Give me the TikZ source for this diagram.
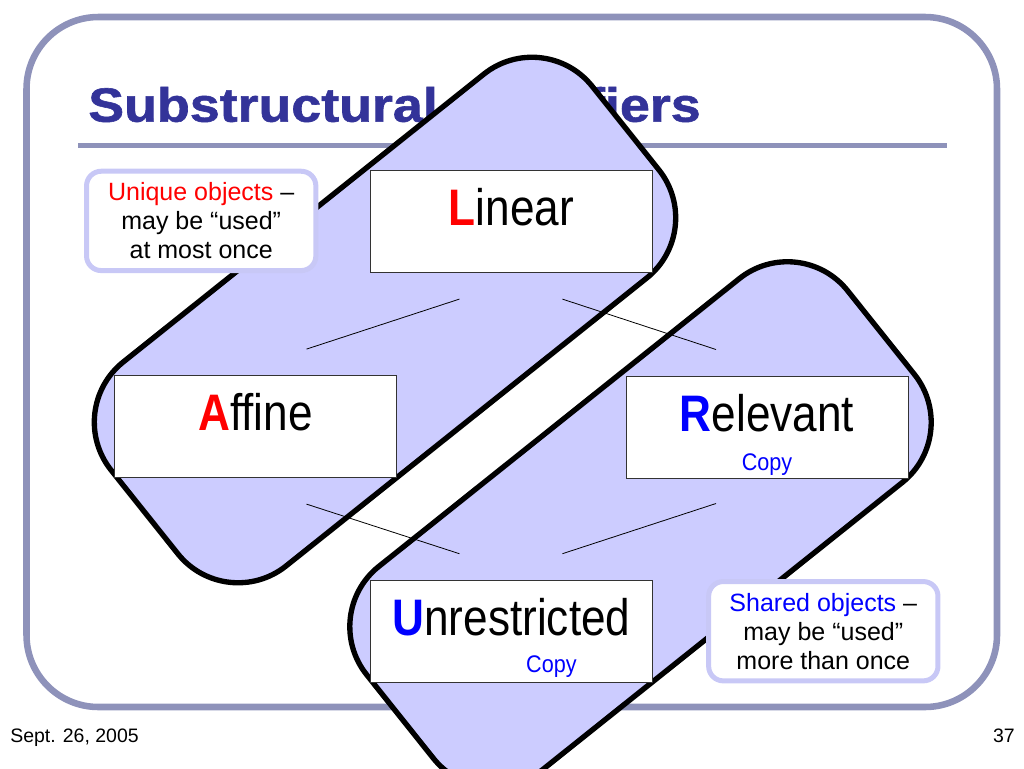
\documentclass[tikz,border=0pt]{standalone}
\usepackage{fontspec}
\setmainfont{Liberation Sans}
\newfontfamily\titlefont[FakeBold=1.2]{Liberation Sans Bold}
\usetikzlibrary{calc}
\definecolor{framegray}{RGB}{142,146,186}
\definecolor{titleblue}{RGB}{51,51,153}
\definecolor{lav}{RGB}{204,204,255}
\definecolor{edgelav}{RGB}{200,200,246}
\definecolor{qred}{RGB}{255,0,0}
\definecolor{qblue}{RGB}{0,0,255}
\newcommand{\qname}[3]{\scalebox{0.86}[1]{\textcolor{#1}{\bfseries #2}#3}}
\begin{document}
\begin{tikzpicture}[x=0.75pt,y=-0.75pt,
  blob/.style={draw=black,line width=4pt,fill=lav,rounded corners=57.75pt},
  qbox/.style={draw=black!80,line width=0.75pt,fill=white,inner sep=0pt,minimum width=211.5pt,
    text height=41.25pt,text depth=35.25pt,font=\fontsize{38.5}{40}\selectfont},
  copytext/.style={anchor=base,inner sep=0pt,text=qblue,font=\fontsize{18}{20}\selectfont},
  notebox/.style={draw=edgelav,line width=3.75pt,fill=white,rounded corners=11pt,align=center,
    inner sep=0pt,minimum width=172pt,minimum height=74.5pt,font=\fontsize{18.75}{21.75}\selectfont},
  link/.style={line width=0.6pt}]
\useasboundingbox (0,0) rectangle (1024,768);
\draw [framegray, line width=4.9pt, rounded corners=54pt] (26.5,17) rectangle (997,707);
\node (title) at (88,121.7) [anchor=base west, inner sep=0pt, text=titleblue, font=\fontsize{36}{40}\titlefont] {\scalebox{1.12}[1]{Substructural Qualifiers}};
\draw [framegray, line width=4pt] (78,145.3) -- (947,145.3);
\begin{scope}[shift={(385,320)}, rotate=38.6]
\draw [blob] (-307.75,-130.5) rectangle (307.75,130.5);
\end{scope}
\begin{scope}[shift={(640.5,524.5)}, rotate=38.6]
\draw [blob] (-307.75,-130.5) rectangle (307.75,130.5);
\end{scope}
\node (linear) at (511.4,221.6) [qbox] {\qname{qred}{L}{inear}};
\node (affine) at (255.5,426.6) [qbox] {\qname{qred}{A}{ffine}};
\node (relevant) at (767,427) [qbox] {\qname{qblue}{R}{elevant}};
\node (unrestricted) at (511.4,631.2) [qbox] {\qname{qblue}{U}{nrestricted}};
\draw [link] ($(linear.south)+(-52,26)$) -- ($(affine.north)+(51,-26)$);
\draw [link] ($(linear.south)+(51,26)$) -- ($(relevant.north)+(-51,-26)$);
\draw [link] ($(affine.south)+(51,26)$) -- ($(unrestricted.north)+(-52,-26)$);
\draw [link] ($(relevant.south)+(-51,25)$) -- ($(unrestricted.north)+(51,-26)$);
\node (relcopy) at ($(relevant.north)+(0,95)$) [copytext] {\scalebox{0.9}[1]{Copy}};
\node (unrcopy) at ($(unrestricted.north)+(40,93)$) [copytext] {\scalebox{0.9}[1]{Copy}};
\node (unique) at (201.2,220.9) [notebox] {\textcolor{qred}{Unique objects} –\\ may be “used”\\ at most once};
\node (shared) at (823.3,631.2) [notebox] {\textcolor{qblue}{Shared objects} –\\ may be “used”\\ more than once};
\node (date) at (10,742) [anchor=base west, inner sep=0pt, font=\fontsize{14.6}{16}\selectfont] {Sept. 26, 2005};
\node (page) at (1015,742) [anchor=base east, inner sep=0pt, font=\fontsize{14.6}{16}\selectfont] {37};
\end{tikzpicture}
\end{document}
